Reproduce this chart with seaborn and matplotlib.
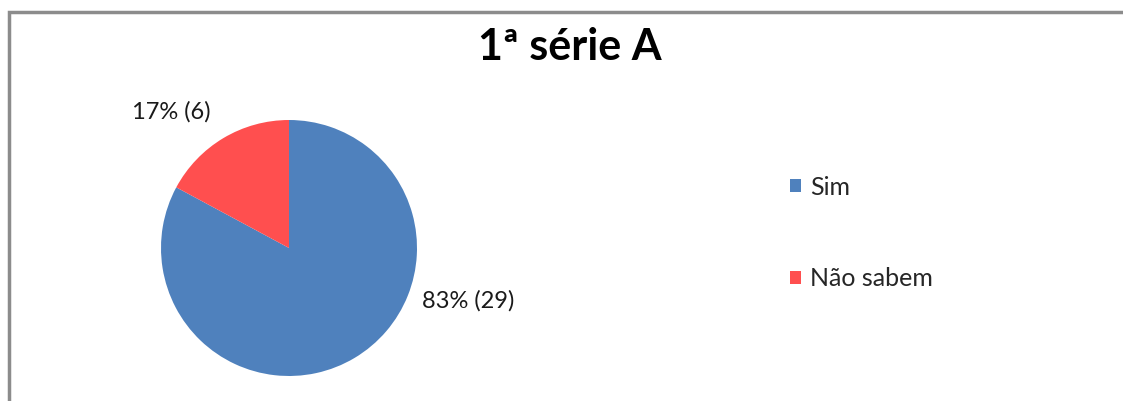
import numpy as np
import seaborn as sns
import pandas as pd
import matplotlib
matplotlib.use("Agg")
from matplotlib import pyplot as plt
from matplotlib.patches import Rectangle

title = "1ª série A"
categories = ["Sim", "Não sabem"]
counts = [29, 6]
percents = [83, 17]
colors = ["#4F81BD", "#FF4F4F"]

sns.set_theme(style="white")
plt.rcParams['font.family'] = ['Lato', 'DejaVu Sans']

W, H = 1123, 401
fig = plt.figure(figsize=(W / 100, H / 100), dpi=100)

# chart border (right and bottom edges run off the image)
fig.patches.append(Rectangle((9 / W, -0.1), 1.2, (H - 12) / H + 0.1, transform=fig.transFigure,
                             fill=False, edgecolor="#8c8c8c", linewidth=2.5))

fig.text(570 / W, 1 - 47 / H, title, ha='center', va='center', fontsize=31, fontweight='bold', color='black')

data = pd.DataFrame({'cat': categories, 'n': counts, 'pct': percents})

ax = fig.add_axes([161 / W, 25 / H, 256 / W, 256 / H])
labels = [f"{p}% ({n})" for p, n in zip(data['pct'], data['n'])]
wedges, texts = ax.pie(data['n'], colors=colors, startangle=90, counterclock=False,
                       labels=labels, labeldistance=1.2,
                       wedgeprops=dict(linewidth=0),
                       textprops=dict(fontsize=17, color='#1a1a1a'))
ax.set_aspect('equal')
ax.set_xlim(-1, 1)
ax.set_ylim(-1, 1)

# label positions (Excel best fit)
texts[0].set_position((1.40, -0.41))
texts[0].set_ha('center'); texts[0].set_va('center')
texts[1].set_position((-0.92, 1.06))
texts[1].set_ha('center'); texts[1].set_va('center')

fig.legend(wedges, data['cat'], loc='center left', bbox_to_anchor=(790 / W, 1 - 233 / H),
           frameon=False, fontsize=18, labelspacing=2.75, handlelength=0.42, handleheight=0.42,
           handletextpad=0.38, borderpad=0, borderaxespad=0)

fig.savefig("out.png", dpi=100)
